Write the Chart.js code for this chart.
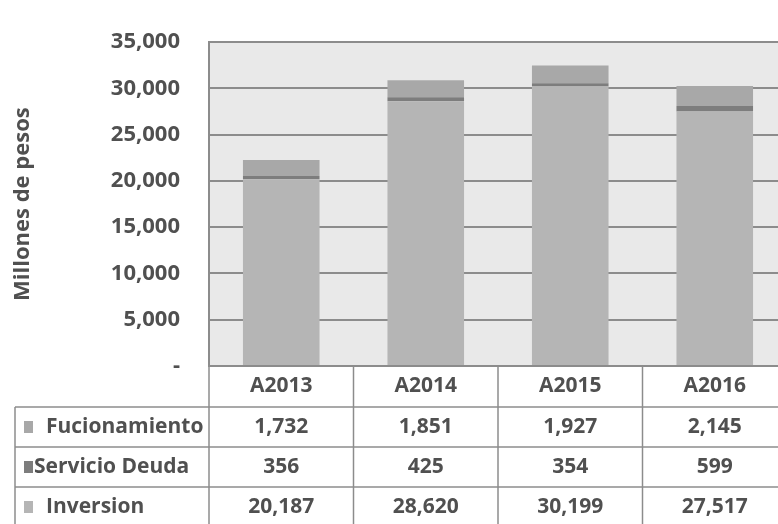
<!DOCTYPE html>
<html><head><meta charset="utf-8">
<script src="https://cdn.jsdelivr.net/npm/chart.js@4"></script>
<style>
html,body{margin:0;padding:0;background:#fff;overflow:hidden;width:778px;height:524px}
#wrap{position:absolute;left:0;top:0;width:800px;height:524px}
</style></head><body>
<div id="wrap"><canvas id="c" width="800" height="524"></canvas></div>
<script>
// ---- data ----
const categories = ['A2013', 'A2014', 'A2015', 'A2016'];
const fucionamiento = [1732, 1851, 1927, 2145];
const servicioDeuda = [356, 425, 354, 599];
const inversion = [20187, 28620, 30199, 27517];
const seriesNames = ['Fucionamiento', 'Servicio Deuda', 'Inversion'];
const yAxisTitle = 'Millones de pesos';
const yMin = 0, yMax = 35000, yStep = 5000;

// ---- styles ----
const FONT = 'Open Sans';
const TXT = '#505050';
const LINE = '#8c8c8c';
const colInv = '#b5b5b5', colDeu = '#7d7d7d', colFuc = '#a8a8a8';
const fmt = v => v.toLocaleString('en-US');

const bgPlugin = {
  id: 'bg',
  beforeDraw(chart) {
    const {ctx, chartArea: a} = chart;
    ctx.save();
    ctx.fillStyle = '#e9e9e9';
    ctx.fillRect(a.left, a.top, a.right - a.left, a.bottom - a.top);
    ctx.restore();
  }
};

const tablePlugin = {
  id: 'dataTable',
  afterDraw(chart) {
    const {ctx, chartArea: a, scales: {x}} = chart;
    const n = categories.length;
    const cw = (x.right - x.left) / n;
    const y0 = a.bottom;
    const hdrH = 41, rowH = 40;
    const tableLeft = 15;
    const H = chart.height + 10;
    ctx.save();
    ctx.strokeStyle = LINE;
    ctx.lineWidth = 1.5;
    for (let k = 0; k <= n; k++) {
      const xx = x.left + k * cw;
      ctx.beginPath(); ctx.moveTo(xx, y0); ctx.lineTo(xx, H); ctx.stroke();
    }
    ctx.beginPath(); ctx.moveTo(x.left, y0); ctx.lineTo(x.right, y0); ctx.stroke();
    for (let r = 0; r < 3; r++) {
      const yy = y0 + hdrH + r * rowH;
      ctx.beginPath(); ctx.moveTo(tableLeft, yy); ctx.lineTo(x.right, yy); ctx.stroke();
    }
    ctx.beginPath(); ctx.moveTo(tableLeft, y0 + hdrH); ctx.lineTo(tableLeft, H); ctx.stroke();

    ctx.fillStyle = TXT;
    ctx.font = 'bold 21px "' + FONT + '"';
    ctx.textAlign = 'center';
    ctx.textBaseline = 'middle';
    categories.forEach((c, i) => {
      ctx.fillText(c, x.getPixelForValue(i), y0 + hdrH / 2);
    });
    const rows = [fucionamiento, servicioDeuda, inversion];
    const keyCols = [colFuc, colDeu, colInv];
    const textX = [46, 34, 46];
    rows.forEach((vals, r) => {
      const cy = y0 + hdrH + r * rowH + rowH / 2;
      ctx.fillStyle = keyCols[r];
      ctx.fillRect(24, cy - 6, 9, 12);
      ctx.fillStyle = TXT;
      ctx.textAlign = 'left';
      ctx.fillText(seriesNames[r], textX[r], cy);
      ctx.textAlign = 'center';
      vals.forEach((v, i) => ctx.fillText(fmt(v), x.getPixelForValue(i), cy));
    });
    ctx.restore();
  }
};

new Chart(document.getElementById('c'), {
  type: 'bar',
  data: {
    labels: categories,
    datasets: [
      {label: seriesNames[2], data: inversion, backgroundColor: colInv},
      {label: seriesNames[1], data: servicioDeuda, backgroundColor: colDeu},
      {label: seriesNames[0], data: fucionamiento, backgroundColor: colFuc}
    ]
  },
  options: {
    responsive: false,
    animation: false,
    devicePixelRatio: 1,
    layout: {padding: {left: 0, top: 25, right: 13, bottom: 158}},
    datasets: {bar: {categoryPercentage: 1, barPercentage: 0.53, borderWidth: 0}},
    plugins: {legend: {display: false}, tooltip: {enabled: false}},
    scales: {
      x: {stacked: true, display: false},
      y: {
        stacked: true, min: yMin, max: yMax,
        afterFit(s) { s.width = 209; },
        ticks: {
          stepSize: yStep, padding: 29, color: TXT,
          font: {family: FONT, size: 22, weight: 'bold'},
          callback: v => v === 0 ? '-' : fmt(v)
        },
        grid: {color: LINE, lineWidth: 2, drawTicks: false},
        border: {display: true, color: LINE, width: 2},
        title: {
          display: true, text: yAxisTitle, color: TXT,
          font: {family: FONT, size: 22, weight: 'bold'},
          padding: {top: 10, bottom: 0}
        }
      }
    }
  },
  plugins: [bgPlugin, tablePlugin]
});
</script>
</body></html>
